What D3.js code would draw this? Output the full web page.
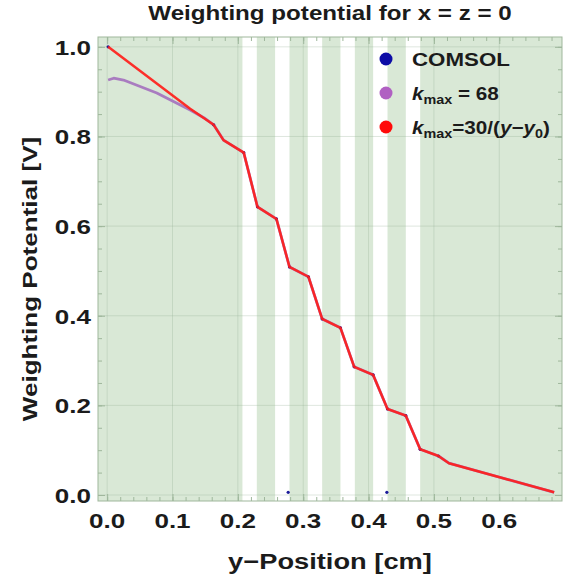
<!DOCTYPE html>
<html>
<head>
<meta charset="utf-8">
<script src="https://cdn.jsdelivr.net/npm/d3@7"></script>
<style>
  body { margin: 0; background: #fff; }
  text { font-family: "Liberation Sans", Arial, sans-serif; font-weight: bold; fill: #1b1b1b; }
</style>
</head>
<body>
<script>
/* DATA */
const xTicks = [0, 0.1, 0.2, 0.3, 0.4, 0.5, 0.6];
const yTicks = [0, 0.2, 0.4, 0.6, 0.8, 1.0];
const bandStart = [0.207, 0.257, 0.307, 0.357, 0.407, 0.457];
const bandEnd = [0.229, 0.279, 0.329, 0.379, 0.429, 0.479];

// k_max = 30/(y-y0)
const redX = [0.0015, 0.127, 0.163, 0.178, 0.209, 0.230, 0.259, 0.279, 0.308, 0.329, 0.357, 0.378, 0.407, 0.429, 0.457, 0.479, 0.507, 0.523, 0.602, 0.684];
const redY = [1.000, 0.862, 0.826, 0.792, 0.764, 0.643, 0.616, 0.509, 0.487, 0.393, 0.373, 0.286, 0.268, 0.192, 0.177, 0.102, 0.087, 0.071, 0.039, 0.006];

// k_max = 68
const purpleX = [0.0015, 0.010, 0.025, 0.076, 0.127, 0.150, 0.163, 0.178, 0.209, 0.230, 0.259, 0.279, 0.308, 0.329, 0.357, 0.378, 0.407, 0.429, 0.457, 0.479, 0.507, 0.523, 0.684];
const purpleY = [0.926, 0.930, 0.926, 0.897, 0.859, 0.840, 0.826, 0.792, 0.764, 0.643, 0.616, 0.509, 0.487, 0.393, 0.373, 0.286, 0.268, 0.192, 0.177, 0.102, 0.087, 0.071, 0.006];

// COMSOL
const comsolX = [0.0015, 0.163, 0.209, 0.230, 0.259, 0.277, 0.279, 0.308, 0.329, 0.357, 0.378, 0.407, 0.428, 0.429, 0.457, 0.479, 0.507];
const comsolY = [1.000, 0.826, 0.764, 0.643, 0.616, 0.006, 0.509, 0.487, 0.393, 0.373, 0.286, 0.268, 0.006, 0.192, 0.177, 0.102, 0.087];

const legendNames = ["COMSOL", "kmax = 68", "kmax=30/(y-y0)"];
const legendColors = ["#0c0ca6", "#b060c2", "#ff0a0a"];

/* LAYOUT */
const WIDTH = 564, HEIGHT = 583;
const SX = 1.24; // the original lettering is wide
const frameColor = "#9fb79c";

const svg = d3.select("body").append("svg")
    .attr("width", WIDTH)
    .attr("height", HEIGHT);

const x = d3.scaleLinear().domain([-0.014, 0.696]).range([98, 562]);
const y = d3.scaleLinear().domain([-0.0134, 1.022]).range([501, 37]);

function txt(sel, s, px, py, size, anchor, rot) {
  return sel.append("text")
    .attr("transform", `translate(${px},${py}) rotate(${rot || 0}) scale(${SX},1)`)
    .attr("font-size", size)
    .attr("text-anchor", anchor)
    .text(s);
}

// background
svg.append("rect")
    .attr("x", x.range()[0]).attr("y", y.range()[1])
    .attr("width", x.range()[1] - x.range()[0])
    .attr("height", y.range()[0] - y.range()[1])
    .attr("fill", "#d9e8d6");

svg.append("g").selectAll("rect")
    .data(bandStart)
    .enter()
    .append("rect")
    .attr("x", d => x(d))
    .attr("width", (d, i) => x(bandEnd[i]) - x(d))
    .attr("y", y.range()[1])
    .attr("height", y.range()[0] - y.range()[1])
    .attr("fill", "#ffffff");

// grid lines
const grid = svg.append("g").attr("stroke", "rgba(150,175,150,0.3)").attr("stroke-width", 1);
grid.selectAll("line.v").data(xTicks).enter().append("line")
    .attr("x1", d => x(d)).attr("x2", d => x(d))
    .attr("y1", y.range()[1]).attr("y2", y.range()[0]);
grid.selectAll("line.h").data(yTicks).enter().append("line")
    .attr("y1", d => y(d)).attr("y2", d => y(d))
    .attr("x1", x.range()[0]).attr("x2", x.range()[1]);

// axes (inward ticks, all four sides)
const xMinor = d3.range(0, 0.69, 0.02);
const yMinor = d3.range(0, 1.01, 0.05);
const axes = svg.append("g");

function styleAxis(g) {
  g.select(".domain").remove();
  g.selectAll(".tick line").attr("stroke", frameColor);
  g.selectAll(".tick text").remove();
}

axes.append("g").attr("transform", `translate(0,${y.range()[0]})`)
    .call(d3.axisBottom(x).tickValues(xMinor).tickSize(-4)).call(styleAxis);
axes.append("g").attr("transform", `translate(0,${y.range()[0]})`)
    .call(d3.axisBottom(x).tickValues(xTicks).tickSize(-7)).call(styleAxis);
axes.append("g").attr("transform", `translate(0,${y.range()[1]})`)
    .call(d3.axisTop(x).tickValues(xMinor).tickSize(-4)).call(styleAxis);
axes.append("g").attr("transform", `translate(0,${y.range()[1]})`)
    .call(d3.axisTop(x).tickValues(xTicks).tickSize(-7)).call(styleAxis);
axes.append("g").attr("transform", `translate(${x.range()[0]},0)`)
    .call(d3.axisLeft(y).tickValues(yMinor).tickSize(-4)).call(styleAxis);
axes.append("g").attr("transform", `translate(${x.range()[0]},0)`)
    .call(d3.axisLeft(y).tickValues(yTicks).tickSize(-7)).call(styleAxis);
axes.append("g").attr("transform", `translate(${x.range()[1]},0)`)
    .call(d3.axisRight(y).tickValues(yMinor).tickSize(-4)).call(styleAxis);
axes.append("g").attr("transform", `translate(${x.range()[1]},0)`)
    .call(d3.axisRight(y).tickValues(yTicks).tickSize(-7)).call(styleAxis);

// frame
svg.append("rect")
    .attr("x", x.range()[0]).attr("y", y.range()[1])
    .attr("width", x.range()[1] - x.range()[0])
    .attr("height", y.range()[0] - y.range()[1])
    .attr("fill", "none")
    .attr("stroke", frameColor)
    .attr("stroke-width", 1);

// tick labels
xTicks.forEach(d => txt(svg, d3.format(".1f")(d), x(d), 528, 21, "middle"));
yTicks.forEach(d => txt(svg, d3.format(".1f")(d), 91, y(d) + 8, 21, "end"));

// series
const line = d3.line().x(d => x(d[0])).y(d => y(d[1]));
const purplePts = purpleX.map((v, i) => [v, purpleY[i]]);
const redPts = redX.map((v, i) => [v, redY[i]]);

svg.append("path")
    .attr("d", line(purplePts))
    .attr("fill", "none")
    .attr("stroke", "#a97cc0")
    .attr("stroke-width", 2.8)
    .attr("stroke-linejoin", "round");

svg.append("g").selectAll("circle")
    .data(comsolX)
    .enter()
    .append("circle")
    .attr("cx", d => x(d))
    .attr("cy", (d, i) => y(comsolY[i]))
    .attr("r", 1.6)
    .attr("fill", "#1a1a9a");

svg.append("path")
    .attr("d", line(redPts))
    .attr("fill", "none")
    .attr("stroke", "#ff1e1a")
    .attr("stroke-opacity", 0.92)
    .attr("stroke-width", 2.5)
    .attr("stroke-linejoin", "round");

// titles
txt(svg, "Weighting potential for x = z = 0", 330, 20, 19.5, "middle");
txt(svg, "y\u2212Position [cm]", 330, 569, 22, "middle");
txt(svg, "Weighting Potential [V]", 37, 279, 21, "middle", -90);

// legend
const legend = svg.append("g");
const rowY = [59, 93, 127];
legend.selectAll("circle")
    .data(legendColors)
    .enter()
    .append("circle")
    .attr("cx", 386)
    .attr("cy", (d, i) => rowY[i])
    .attr("r", 6.5)
    .attr("fill", d => d);

txt(legend, legendNames[0], 412, rowY[0] + 6.5, 18, "start");

const t2 = legend.append("text")
    .attr("transform", `translate(412,${rowY[1] + 6.5}) scale(1.15,1)`)
    .attr("font-size", 18);
t2.append("tspan").attr("font-style", "italic").text("k");
t2.append("tspan").attr("font-size", 12.5).attr("dy", 4).text("max");
t2.append("tspan").attr("dy", -4).text(" = 68");

const t3 = legend.append("text")
    .attr("transform", `translate(412,${rowY[2] + 6.5}) scale(1.15,1)`)
    .attr("font-size", 18);
t3.append("tspan").attr("font-style", "italic").text("k");
t3.append("tspan").attr("font-size", 12.5).attr("dy", 4).text("max");
t3.append("tspan").attr("dy", -4).text("=30/(");
t3.append("tspan").attr("font-style", "italic").text("y");
t3.append("tspan").text("\u2212");
t3.append("tspan").attr("font-style", "italic").text("y");
t3.append("tspan").attr("font-size", 12.5).attr("dy", 4).text("0");
t3.append("tspan").attr("dy", -4).text(")");
</script>
</body>
</html>
